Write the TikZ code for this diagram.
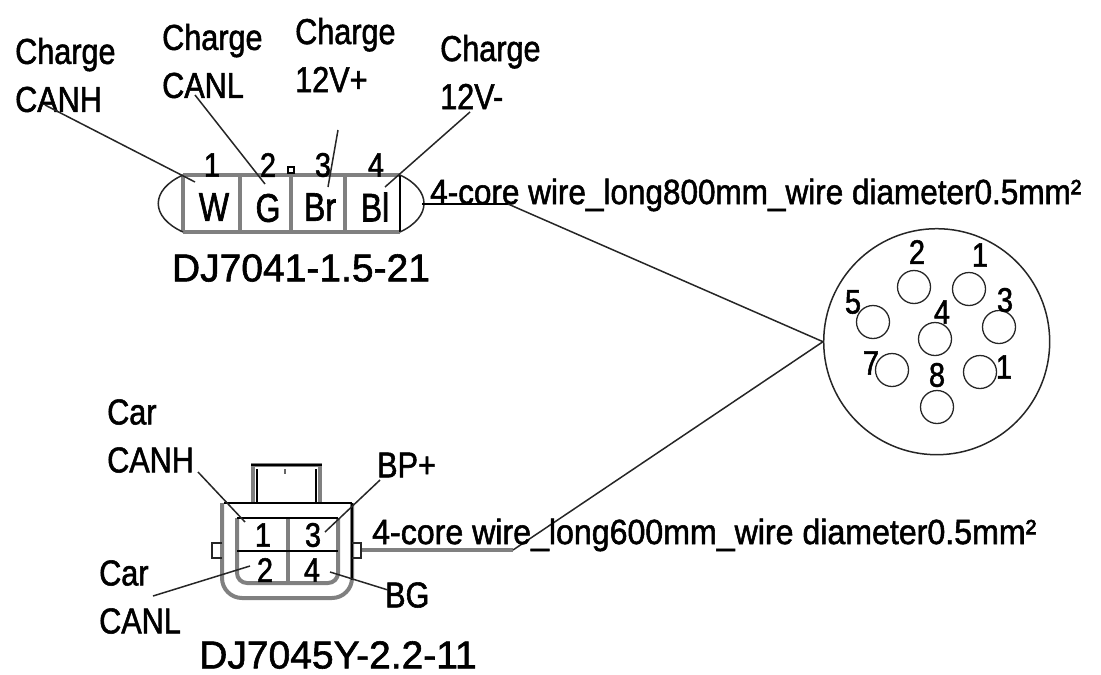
\documentclass[tikz,border=0pt]{standalone}
\usepackage{fontspec}
\setmainfont{Liberation Sans}
\newfontfamily\lblfont[FakeStretch=0.85,FakeBold=1.5]{Liberation Sans}
\newfontfamily\numfont[FakeStretch=0.85,FakeBold=1.5]{Liberation Sans}
\newfontfamily\tagfont[FakeStretch=0.8,FakeBold=1.5]{Liberation Sans}
\newfontfamily\wirefont[FakeStretch=0.9,FakeBold=1.5]{Liberation Sans}
\newfontfamily\namefont[FakeStretch=1.0,FakeBold=1.5]{Liberation Sans}
\tikzset{
  lbl/.style={inner sep=0pt,align=left,font=\lblfont\fontsize{36}{48}\selectfont},
  pinnum/.style={inner sep=0pt,font=\numfont\fontsize{34}{34}\selectfont},
  tagtxt/.style={inner sep=0pt,font=\tagfont\fontsize{40}{40}\selectfont},
  nametxt/.style={inner sep=0pt,font=\namefont\fontsize{39}{39}\selectfont},
  wirelbl/.style={inner sep=0pt,font=\wirefont\fontsize{35}{35}\selectfont},
  leader/.style={draw=black!85,line width=1.5pt},
  grayline/.style={draw=black!50,line width=4pt},
  blackline/.style={draw=black,line width=2.5pt},
  pin/.style={circle,draw=black!85,line width=1.3pt,minimum size=33pt,inner sep=0pt}
}
\begin{document}
\begin{tikzpicture}[x=1pt,y=-1pt]
\useasboundingbox (0,0) rectangle (1101,675);
\node[lbl,anchor=west] (chCanh) at (15,75) {Charge\\CANH};
\node[lbl,anchor=west] (chCanl) at (162,61) {Charge\\CANL};
\node[lbl,anchor=west] (chVp) at (295,55) {Charge\\12V+};
\node[lbl,anchor=west] (chVm) at (440,72) {Charge\\12V-};
\coordinate (a1) at (45,105);
\coordinate (a2) at (195,95);
\coordinate (a3) at (338,130);
\coordinate (a4) at (470,112);
\coordinate (p1) at (195,182);
\coordinate (p2) at (265,184);
\coordinate (p3) at (328,187);
\coordinate (p4) at (385,187);
\draw[grayline] (183,175) -- (400,175);
\draw[grayline] (183,232) -- (400,232);
\foreach \x in {183,240,291,345} \draw[grayline] (\x,175) -- (\x,232);
\draw[blackline] (400,175) -- (400,232);
\draw[leader] (183,175) .. controls (150,190) and (150,217) .. (183,232);
\draw[leader] (400,175) .. controls (432,190) and (432,217) .. (400,232);
\node[draw,line width=1.5pt,inner sep=0pt,minimum size=6pt] (key) at (291,170) {};
\node[pinnum] (n1) at (212,165) {1};
\node[pinnum] (n2) at (268,165) {2};
\node[pinnum] (n3) at (323,165) {3};
\node[pinnum] (n4) at (376,165) {4};
\node[tagtxt] (w) at (214,207) {W};
\node[tagtxt] (g) at (268,208) {G};
\node[tagtxt] (br) at (320,207) {Br};
\node[tagtxt] (bl) at (375,207) {Bl};
\node[nametxt] (topName) at (301,268) {DJ7041-1.5-21};
\draw[leader] (a1) -- (p1);
\draw[leader] (a2) -- (p2);
\draw[leader] (a3) -- (p3);
\draw[leader] (a4) -- (p4);
\node[wirelbl,anchor=west] (topWire) at (430,195) {4-core wire\_long800mm\_wire diameter0.5mm²};
\coordinate (t1) at (422,204);
\coordinate (t2) at (508,204);
\coordinate (b1) at (361,550);
\coordinate (b2) at (513,550);
\draw[blackline] (t1) -- (t2);
\draw[grayline] (b1) -- (b2);
\node[circle,draw=black!85,line width=1.5pt,minimum size=226pt,inner sep=0pt] (plug) at (936.7,341.7) {};
\coordinate (m) at (plug.west);
\draw[leader] (t2) -- (m);
\draw[leader] (b2) -- (m);
\foreach \nm/\px/\py in {q2/914/287,q1/969/289,q3/999/327,q5/873/322,q4/935/339,q7/892/370,q0/980/372,q8/937/407}
  \node[pin] (\nm) at (\px,\py) {};
\node[pinnum] (l2) at (917,252) {2};
\node[pinnum] (l1) at (980,255) {1};
\node[pinnum] (l3) at (1005,300) {3};
\node[pinnum] (l5) at (853,302) {5};
\node[pinnum] (l4) at (942,312) {4};
\node[pinnum] (l7) at (871,363) {7};
\node[pinnum] (l0) at (1004,367) {1};
\node[pinnum] (l8) at (937,375) {8};
\node[lbl,anchor=west] (carCanh) at (107,436) {Car\\CANH};
\node[lbl,anchor=west] (carCanl) at (99,597) {Car\\CANL};
\node[lbl,anchor=west] (bpp) at (377,465) {BP+};
\node[lbl,anchor=west] (bg) at (385,595) {BG};
\coordinate (c1) at (198,472);
\coordinate (c2) at (380,480);
\coordinate (c3) at (153,596);
\coordinate (c4) at (388,590);
\coordinate (r1) at (245,522);
\coordinate (r2) at (325,532);
\coordinate (r3) at (250,566);
\coordinate (r4) at (330,572);
\draw[grayline] (253,503) -- (253,465) -- (320,465) -- (320,503);
\draw[draw=black,line width=2pt] (257,503) -- (257,469);
\draw[draw=black,line width=2pt] (316,503) -- (316,469);
\draw[blackline] (251,465) -- (322,465);
\draw[draw=black!60,line width=1.5pt] (285,469) -- (285,474);
\draw[grayline,rounded corners=20pt] (222,503) -- (222,598) -- (352,598) -- (352,503);
\draw[blackline] (352,580) -- (352,503);
\draw[blackline] (224,503) -- (352,503);
\draw[grayline,rounded corners=10pt] (237,518) -- (237,583) -- (338,583) -- (338,518);
\draw[grayline] (288,518) -- (288,583);
\draw[blackline] (237,518) -- (338,518);
\draw[blackline] (237,551) -- (338,551);
\draw[leader] (222,543) -- (212,543) -- (212,558) -- (222,558);
\draw[leader] (352,543) -- (361,543) -- (361,558) -- (352,558);
\node[pinnum] (m1) at (263,535) {1};
\node[pinnum] (m3) at (313,535) {3};
\node[pinnum] (m2) at (265,570) {2};
\node[pinnum] (m4) at (312,570) {4};
\draw[leader] (c1) -- (r1);
\draw[leader] (c2) -- (r2);
\draw[leader] (c3) -- (r3);
\draw[leader] (c4) -- (r4);
\node[wirelbl,anchor=west,xscale=1.02] (botWire) at (372,535) {4-core wire\_long600mm\_wire diameter0.5mm²};
\node[nametxt] (botName) at (338,655) {DJ7045Y-2.2-11};
\end{tikzpicture}
\end{document}
